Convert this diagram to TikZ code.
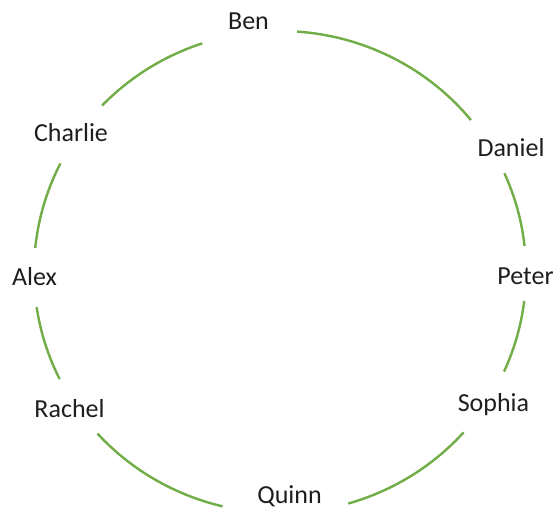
\documentclass[tikz,border=0pt]{standalone}
\usepackage{fontspec}
\setmainfont{Carlito}
\definecolor{ringgreen}{HTML}{70AD47}
\definecolor{txt}{HTML}{1E1E1E}
\begin{document}
\begin{tikzpicture}[x=1pt, y=1pt,
  person/.style={anchor=base, inner sep=0pt, text=txt, font=\fontsize{26}{31}\selectfont},
  ring/.style={draw=ringgreen, line width=2.4pt}
]
\useasboundingbox (0,0) rectangle (559,-508);
\coordinate (c) at (280,-272);
\node[person] (ben)     at (248.5,-30)  {Ben};
\node[person] (daniel)  at (511,-156)   {Daniel};
\node[person] (peter)   at (525.5,-284) {Peter};
\node[person] (sophia)  at (493.5,-411) {Sophia};
\node[person] (quinn)   at (289.5,-503) {Quinn};
\node[person] (rachel)  at (69.5,-417)  {Rachel};
\node[person] (alex)    at (34.5,-285)  {Alex};
\node[person] (charlie) at (71,-142)    {Charlie};
\foreach \a/\b in {-73.9/-41.7, -24.4/-6.9, 6.2/24.2, 39.1/86, 108.4/136.3, 153.2/174.3, 188.4/206.4, 222.1/256.5}{
  \draw[ring] ([shift={({246*cos(\a)},{241*sin(\a)})}]c)
    arc[start angle=\a, end angle=\b, x radius=246, y radius=241];
}
\end{tikzpicture}
\end{document}
